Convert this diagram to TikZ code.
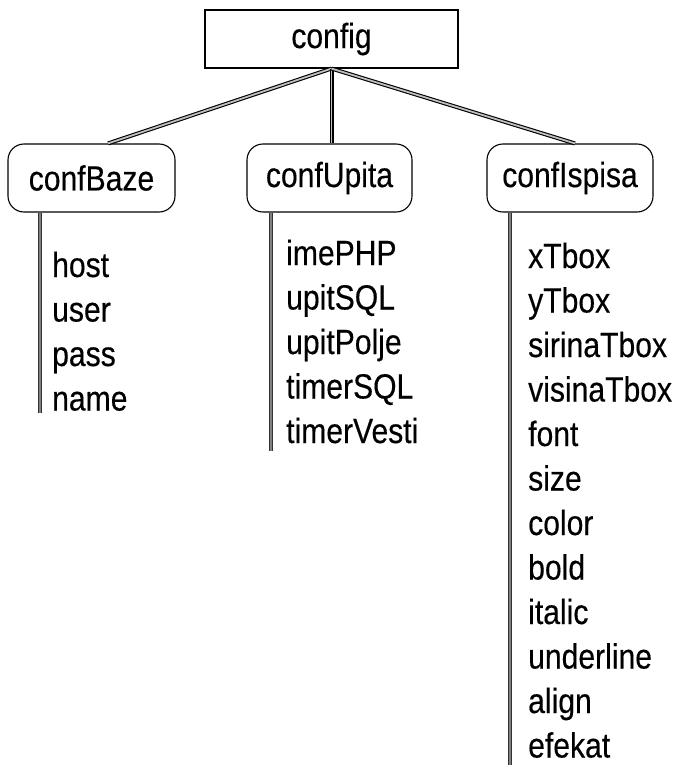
\documentclass[tikz,border=0pt]{standalone}
\usepackage{fontspec}
\setmainfont{Liberation Sans}[FakeStretch=0.86,FakeBold=0.3]
\begin{document}
\begin{tikzpicture}[x=1pt,y=-1pt,
  box/.style={draw=black, line width=1.1pt, inner sep=0pt, minimum height=68pt, font=\fontsize{35}{40}\selectfont},
  rbox/.style={box, rounded corners=16pt},
  edge/.style={draw=black, line width=1.1pt, double=black!25, double distance=1.8pt},
  vline/.style={draw=black!80, line width=1.1pt, double=black!50, double distance=2pt},
  item/.style={anchor=base west, inner sep=0pt, font=\fontsize{35}{40}\selectfont}]
\useasboundingbox (0,0) rectangle (675,765);
\node[box, minimum width=253pt, minimum height=58pt] (config) at (331.5,39) {config};
\node[rbox, minimum width=167pt] (cb) at (91.5,178) {confBaze};
\node[rbox, minimum width=165pt] (cu) at (329.5,178) {confUpita};
\node[rbox, minimum width=166pt] (ci) at (570,178) {confIspisa};
\draw[edge] (config.south) -- ([xshift=16.5pt]cb.north);
\draw[edge] (config.south) -- (config.south |- cu.north);
\draw[edge] (config.south) -- ([xshift=5pt]ci.north);
\coordinate (cbend) at (40,413);
\coordinate (cuend) at (271,451);
\coordinate (ciend) at (510,768);
\draw[vline] (cbend |- cb.south) -- (cbend);
\draw[vline] (cuend |- cu.south) -- (cuend);
\draw[vline] (ciend |- ci.south) -- (ciend);
\node[item] (b1) at (52,277) {host};
\node[item] (b2) at (52,321.5) {user};
\node[item] (b3) at (52,366) {pass};
\node[item] (b4) at (52,410.5) {name};
\node[item] (u1) at (286,265) {imePHP};
\node[item] (u2) at (286,309.5) {upitSQL};
\node[item] (u3) at (286,354) {upitPolje};
\node[item] (u4) at (286,398.5) {timerSQL};
\node[item] (u5) at (286,443) {timerVesti};
\node[item] (i1) at (528,268) {xTbox};
\node[item] (i2) at (528,312.5) {yTbox};
\node[item] (i3) at (528,357) {sirinaTbox};
\node[item] (i4) at (528,401.5) {visinaTbox};
\node[item] (i5) at (528,446) {font};
\node[item] (i6) at (528,490.5) {size};
\node[item] (i7) at (528,535) {color};
\node[item] (i8) at (528,579.5) {bold};
\node[item] (i9) at (528,624) {italic};
\node[item] (i10) at (528,668.5) {underline};
\node[item] (i11) at (528,713) {align};
\node[item] (i12) at (528,757.5) {efekat};
\end{tikzpicture}
\end{document}
